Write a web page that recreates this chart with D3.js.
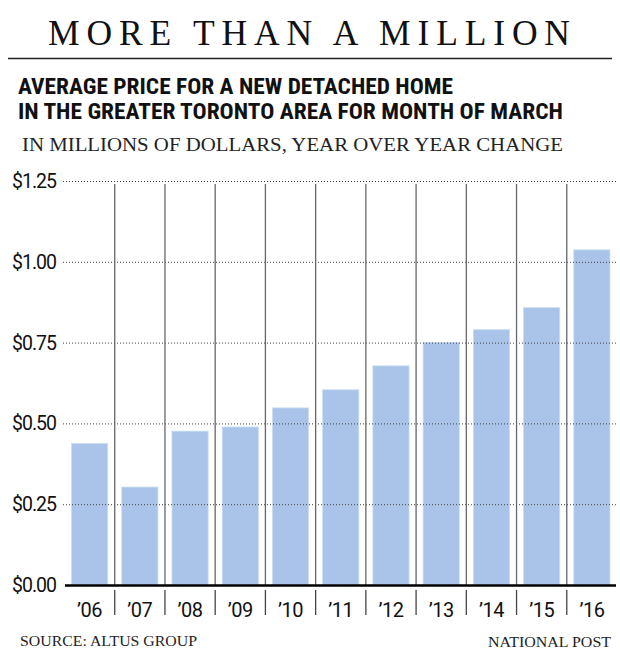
<!DOCTYPE html>
<html>
<head>
<meta charset="utf-8">
<script src="https://cdn.jsdelivr.net/npm/d3@7"></script>
<style>
  html, body { margin: 0; padding: 0; background: #fff; }
  svg { display: block; }
</style>
</head>
<body>
<svg id="chart" width="620" height="658"></svg>
<script>
const years = ["’06","’07","’08","’09","’10","’11","’12","’13","’14","’15","’16"];
const prices = [0.438, 0.303, 0.476, 0.489, 0.548, 0.604, 0.678, 0.750, 0.790, 0.858, 1.037];
const yTicks = [0, 0.25, 0.5, 0.75, 1.0, 1.25];
const yTickLabels = ["$0.00","$0.25","$0.50","$0.75","$1.00","$1.25"];

const title = "MORE THAN A MILLION";
const subtitle1 = "AVERAGE PRICE FOR A NEW DETACHED HOME";
const subtitle2 = "IN THE GREATER TORONTO AREA FOR MONTH OF MARCH";
const subtitle3 = "IN MILLIONS OF DOLLARS, YEAR OVER YEAR CHANGE";
const source = "SOURCE: ALTUS GROUP";
const credit = "NATIONAL POST";

const svg = d3.select("#chart");
const serif = "'Liberation Serif', 'DejaVu Serif', serif";
const sans = "Roboto, 'Liberation Sans', sans-serif";
const narrow = "'Liberation Sans Narrow', 'Roboto Condensed', Roboto, sans-serif";

// Title
svg.append("text").attr("x", 48).attr("y", 45)
  .attr("font-family", serif).attr("font-size", 35.5)
  .attr("textLength", 522).attr("lengthAdjust", "spacing")
  .attr("fill", "#111").text(title);
svg.append("line").attr("x1", 8).attr("x2", 612).attr("y1", 58.5).attr("y2", 58.5)
  .attr("stroke", "#222").attr("stroke-width", 1.5);

svg.append("text").attr("x", 18).attr("y", 93.5)
  .attr("font-family", narrow).attr("font-weight", "bold").attr("font-size", 21.5)
  .attr("textLength", 435).attr("lengthAdjust", "spacingAndGlyphs")
  .attr("fill", "#111").text(subtitle1);
svg.append("text").attr("x", 18).attr("y", 119)
  .attr("font-family", narrow).attr("font-weight", "bold").attr("font-size", 21.5)
  .attr("textLength", 545).attr("lengthAdjust", "spacingAndGlyphs")
  .attr("fill", "#111").text(subtitle2);
svg.append("text").attr("x", 22).attr("y", 151)
  .attr("font-family", serif).attr("font-size", 19.5)
  .attr("textLength", 541).attr("lengthAdjust", "spacingAndGlyphs")
  .attr("fill", "#222").text(subtitle3);

// Scales
const y = d3.scaleLinear().domain([0, 1.25]).range([585, 181]);
const x = d3.scaleBand().domain(years).range([64.5, 617]).paddingInner(0.28).paddingOuter(0.14);
const step = x.step();

// Bars
svg.append("g").selectAll("rect").data(prices).join("rect")
  .attr("x", (d, i) => x(years[i]))
  .attr("width", x.bandwidth())
  .attr("y", d => y(d))
  .attr("height", d => y(0) - y(d))
  .attr("fill", "#a9c4e8")
  .attr("stroke", "#cbdcf2").attr("stroke-width", 0.8);

// Gridlines (dotted) on top of bars
svg.append("g").selectAll("line").data(yTicks.filter(t => t > 0)).join("line")
  .attr("x1", 63).attr("x2", 616)
  .attr("y1", d => y(d) + 0.5).attr("y2", d => y(d) + 0.5)
  .attr("stroke", "#444").attr("stroke-width", 1)
  .attr("stroke-dasharray", "1,2");

// Separators between bars
const seps = years.slice(1).map(yr => x(yr) - (step - x.bandwidth()) / 2);
const sepG = svg.append("g");
sepG.selectAll("line.up").data(seps).join("line").attr("class", "up")
  .attr("x1", d => d).attr("x2", d => d)
  .attr("y1", 184).attr("y2", 585)
  .attr("stroke", "#666").attr("stroke-width", 1.3);
sepG.selectAll("line.down").data(seps).join("line").attr("class", "down")
  .attr("x1", d => d).attr("x2", d => d)
  .attr("y1", 590).attr("y2", 615)
  .attr("stroke", "#444").attr("stroke-width", 1.3);

// Baseline
svg.append("line").attr("x1", 65).attr("x2", 616)
  .attr("y1", y(0) + 0.5).attr("y2", y(0) + 0.5)
  .attr("stroke", "#000").attr("stroke-width", 2.5);

// Y tick labels
svg.append("g").selectAll("text").data(yTicks).join("text")
  .attr("x", 56).attr("y", d => y(d) + 7)
  .attr("text-anchor", "end")
  .attr("font-family", sans).attr("font-size", 19.5).attr("letter-spacing", -1)
  .attr("fill", "#111")
  .text((d, i) => yTickLabels[i]);

// X labels
svg.append("g").selectAll("text").data(years).join("text")
  .attr("x", d => x(d) + x.bandwidth() / 2)
  .attr("y", 617)
  .attr("text-anchor", "middle")
  .attr("font-family", sans).attr("font-size", 20).attr("letter-spacing", -0.5)
  .attr("fill", "#111")
  .text(d => d);

// Footer
svg.append("text").attr("x", 20).attr("y", 645.5)
  .attr("font-family", serif).attr("font-size", 15.5)
  .attr("textLength", 177).attr("lengthAdjust", "spacingAndGlyphs")
  .attr("fill", "#222").text(source);
svg.append("text").attr("x", 488).attr("y", 646.5)
  .attr("font-family", serif).attr("font-size", 15.5)
  .attr("textLength", 123).attr("lengthAdjust", "spacingAndGlyphs")
  .attr("fill", "#222").text(credit);
</script>
</body>
</html>
